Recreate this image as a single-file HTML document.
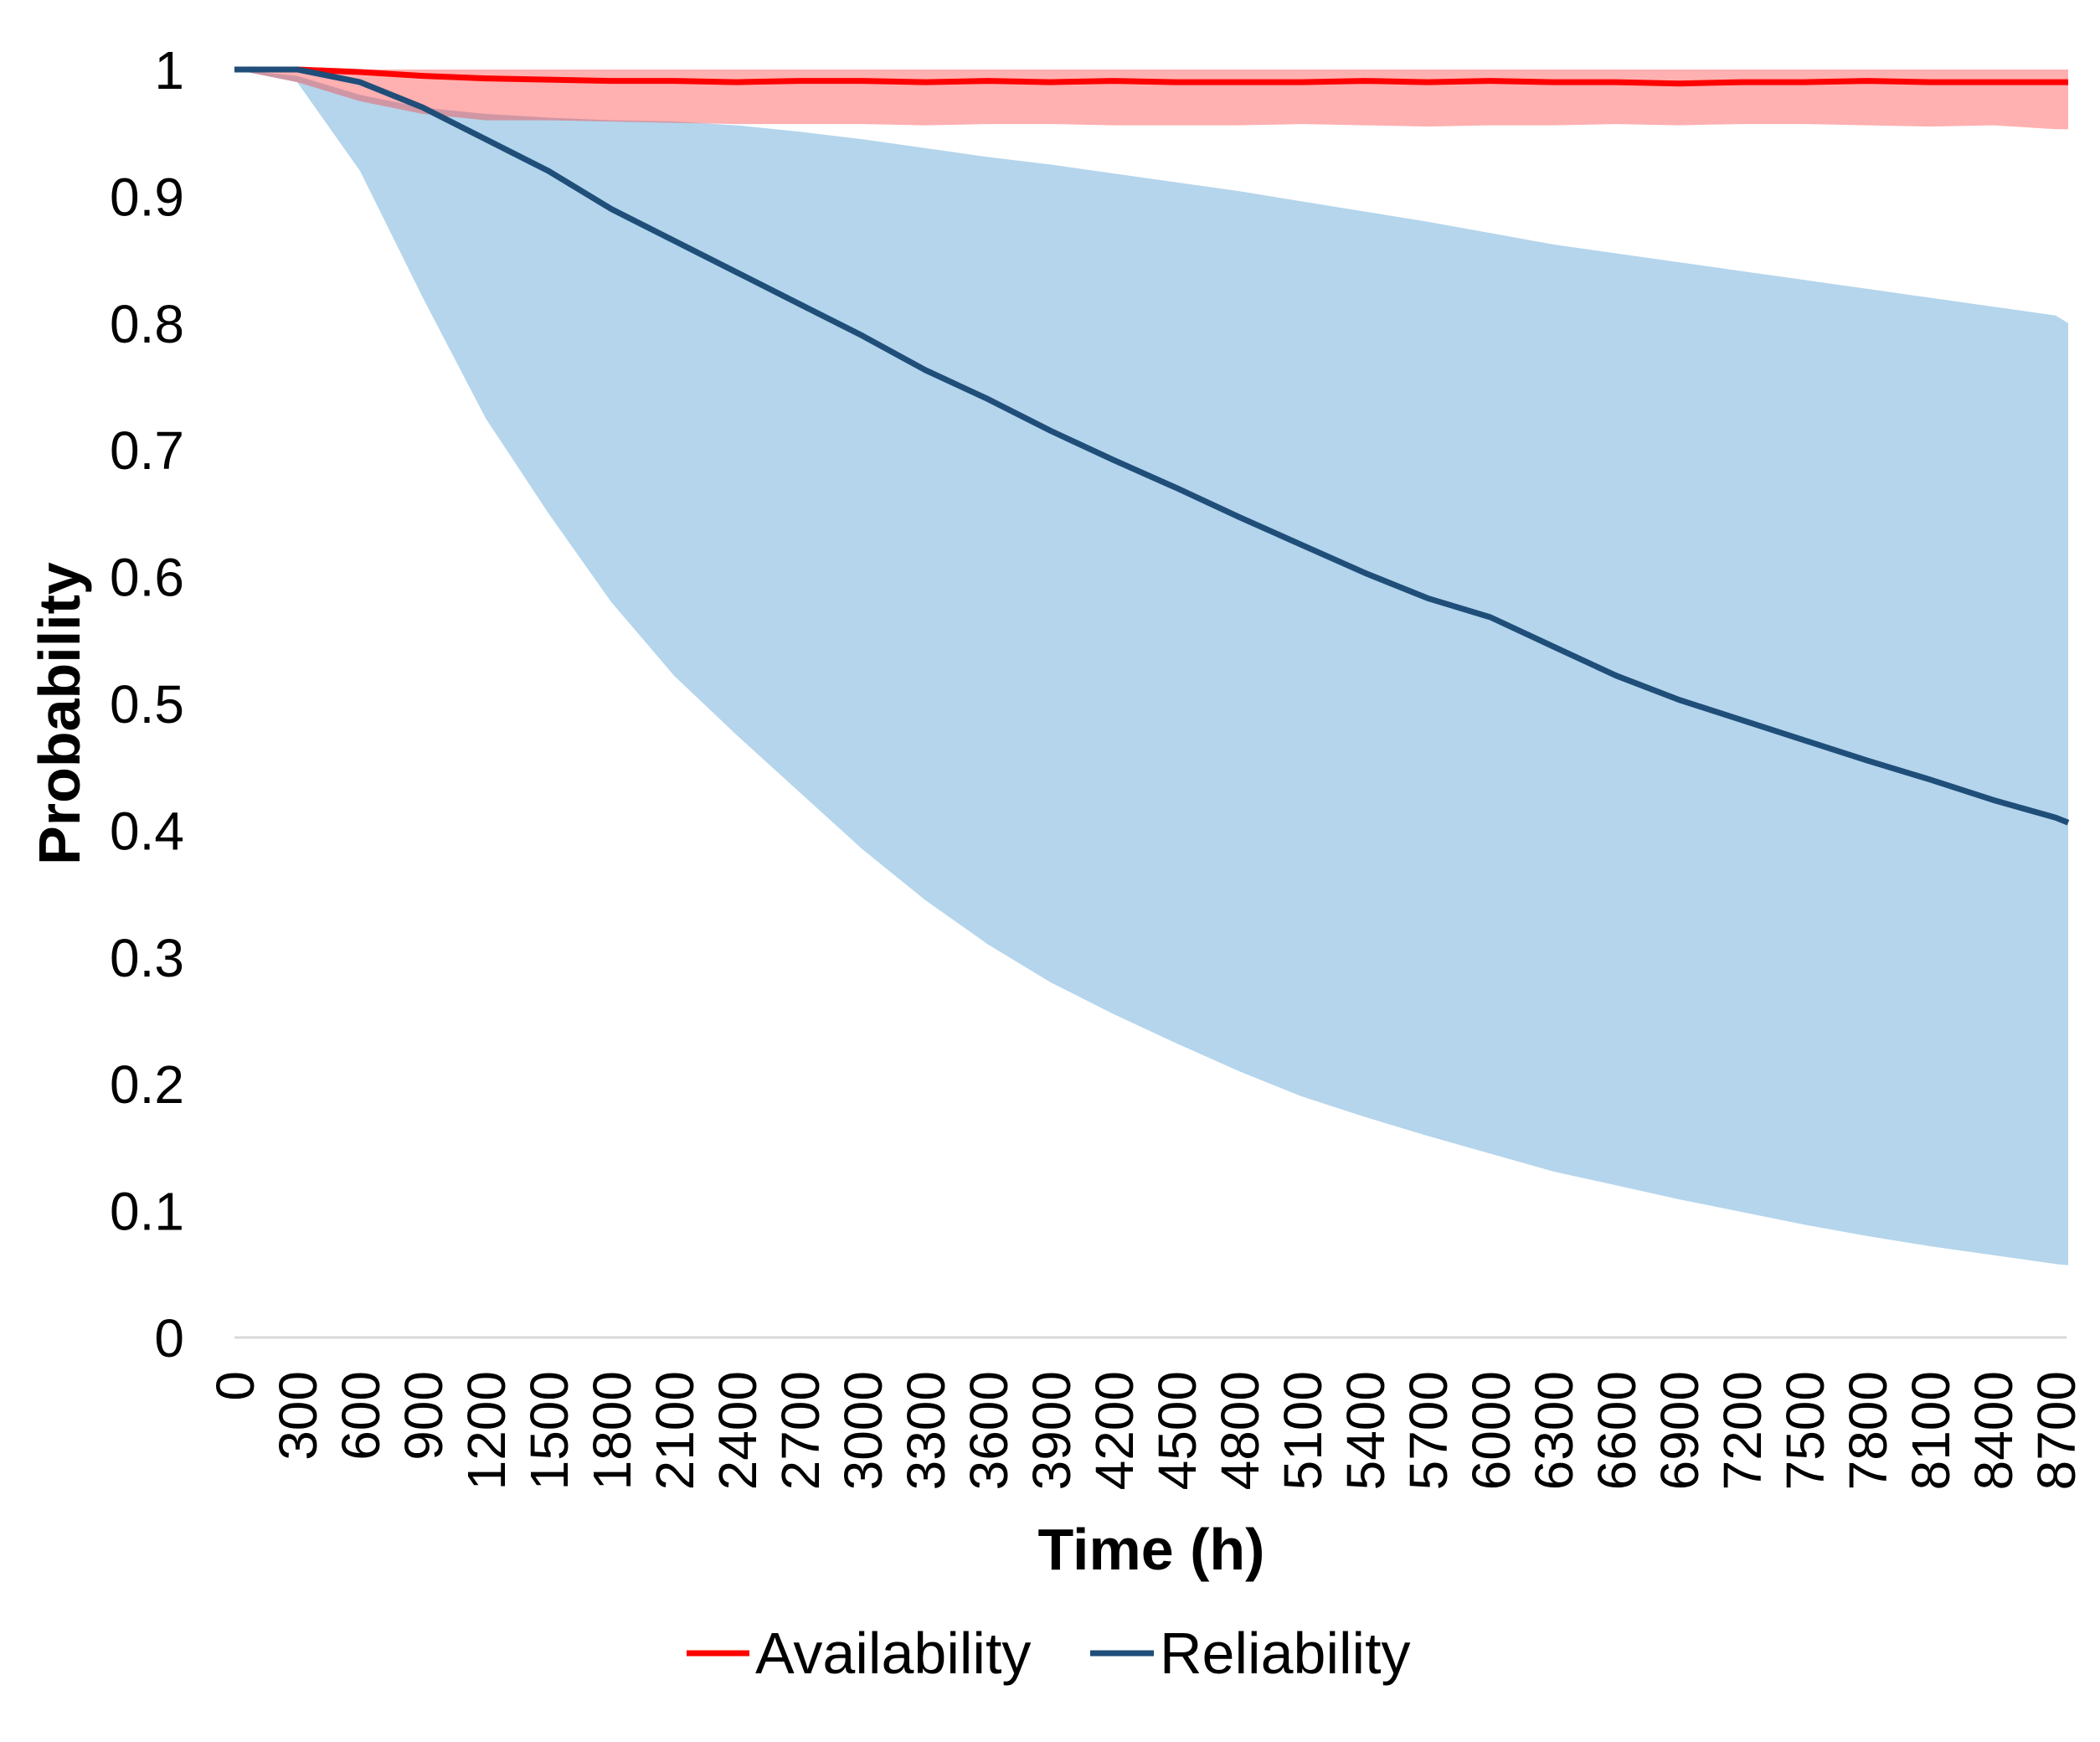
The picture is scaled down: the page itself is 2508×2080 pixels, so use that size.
<!DOCTYPE html>
<html><head><meta charset="utf-8"><style>
html,body{margin:0;padding:0;background:#fff;}
svg{display:block;font-family:"Liberation Sans",Arial,sans-serif;}
</style></head><body>
<svg id="chart" width="2508" height="2080" viewBox="0 0 2508 2080">
<g id="bands"></g>
<g id="lines"></g>
<line x1="280" y1="1597" x2="2468" y2="1597" stroke="#d9d9d9" stroke-width="3"/>
<g id="yticks"></g>
<g id="xticks"></g>
<text x="1375" y="1874" font-size="70" font-weight="bold" text-anchor="middle">Time (h)</text>
<text transform="translate(95,852) rotate(-90)" font-size="70" font-weight="bold" text-anchor="middle">Probability</text>
<g>
<g>
<line x1="820" y1="1974" x2="895" y2="1974" stroke="#ff0000" stroke-width="7"/>
<text x="902" y="1998" font-size="70">Availability</text>
</g>
<g>
<line x1="1302" y1="1974" x2="1378" y2="1974" stroke="#1f4e79" stroke-width="7"/>
<text x="1385" y="1998" font-size="70">Reliability</text>
</g>
</g>
</svg>
<script>
const times = [0,300,600,900,1200,1500,1800,2100,2400,2700,3000,3300,3600,3900,4200,4500,4800,5100,5400,5700,6000,6300,6600,6900,7200,7500,7800,8100,8400,8700,8760];
const relMean = [1,1,0.99,0.97,0.945,0.92,0.89,0.865,0.84,0.815,0.79,0.763,0.74,0.715,0.692,0.67,0.647,0.625,0.603,0.583,0.568,0.545,0.522,0.503,0.487,0.471,0.455,0.44,0.424,0.41,0.406];
const relUpper = [1,0.995,0.98,0.97,0.965,0.962,0.96,0.959,0.956,0.951,0.945,0.938,0.931,0.925,0.918,0.911,0.904,0.896,0.888,0.88,0.871,0.862,0.855,0.848,0.841,0.834,0.827,0.82,0.813,0.806,0.80];
const relLower = [1,0.99,0.92,0.82,0.725,0.65,0.58,0.522,0.475,0.43,0.385,0.345,0.31,0.28,0.255,0.232,0.21,0.19,0.174,0.159,0.145,0.131,0.12,0.109,0.099,0.089,0.08,0.072,0.065,0.058,0.057];
const avMean = [1,1,0.998,0.995,0.993,0.992,0.991,0.991,0.99,0.991,0.991,0.99,0.991,0.99,0.991,0.99,0.99,0.99,0.991,0.99,0.991,0.99,0.99,0.989,0.99,0.99,0.991,0.99,0.99,0.99,0.99];
const avUpper = [1,1,1,1,1,1,1,1,1,1,1,1,1,1,1,1,1,1,1,1,1,1,1,1,1,1,1,1,1,1,1];
const avLower = [1,0.99,0.975,0.965,0.96,0.96,0.959,0.958,0.957,0.957,0.957,0.956,0.957,0.957,0.956,0.956,0.956,0.957,0.956,0.955,0.956,0.956,0.957,0.956,0.957,0.957,0.956,0.955,0.956,0.953,0.953];
const yTicks = [0,0.1,0.2,0.3,0.4,0.5,0.6,0.7,0.8,0.9,1];
const yTickLabels = ["0","0.1","0.2","0.3","0.4","0.5","0.6","0.7","0.8","0.9","1"];
const xTicks = [0,300,600,900,1200,1500,1800,2100,2400,2700,3000,3300,3600,3900,4200,4500,4800,5100,5400,5700,6000,6300,6600,6900,7200,7500,7800,8100,8400,8700];

const NS="http://www.w3.org/2000/svg";
function xs(t){return 280 + t*0.25;}
function ys(v){return 1597 - v*1514;}
function mk(tag,attrs,parent){const e=document.createElementNS(NS,tag);for(const k in attrs)e.setAttribute(k,attrs[k]);parent.appendChild(e);return e;}
function bandPath(up,lo){let d="";for(let i=0;i<times.length;i++)d+=(i?"L":"M")+xs(times[i]).toFixed(1)+","+ys(up[i]).toFixed(1);for(let i=times.length-1;i>=0;i--)d+="L"+xs(times[i]).toFixed(1)+","+ys(lo[i]).toFixed(1);return d+"Z";}
function linePath(v){let d="";for(let i=0;i<times.length;i++)d+=(i?"L":"M")+xs(times[i]).toFixed(1)+","+ys(v[i]).toFixed(1);return d;}
const bands=document.getElementById("bands");
const rb=mk("path",{d:bandPath(relUpper,relLower),fill:"#b4d5ec"},bands);


const ab=mk("path",{d:bandPath(avUpper,avLower),fill:"#ff3030","fill-opacity":"0.38"},bands);


const lines=document.getElementById("lines");
const al=mk("path",{d:linePath(avMean),fill:"none",stroke:"#ff0000","stroke-width":"7","stroke-linejoin":"round"},lines);


const rl=mk("path",{d:linePath(relMean),fill:"none",stroke:"#1f4e79","stroke-width":"7","stroke-linejoin":"round"},lines);


const yg=document.getElementById("yticks");
yTicks.forEach((v,i)=>{
  const t=mk("text",{x:220,y:ys(v)+23,"font-size":"64","text-anchor":"end"},yg);
  t.textContent=yTickLabels[i];
  
  
});
const xg=document.getElementById("xticks");
xTicks.forEach(v=>{
  const t=mk("text",{transform:"translate("+(xs(v)+23)+",1637) rotate(-90)","font-size":"64","text-anchor":"end"},xg);
  t.textContent=String(v);
  
  
});
</script>
</body></html>
